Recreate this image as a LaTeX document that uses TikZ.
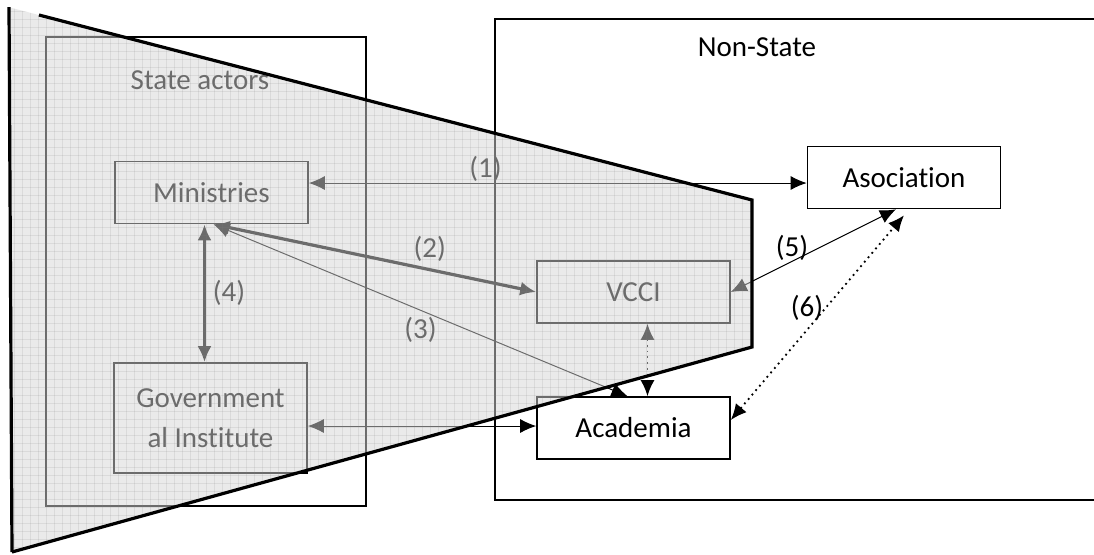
\documentclass[tikz,border=0pt]{standalone}
\usepackage{fontspec}
\setmainfont{Carlito}[Ligatures=NoCommon]
\usetikzlibrary{arrows.meta}
\tikzset{>={Latex[length=8pt,width=7pt]}}

\begin{document}
\begin{tikzpicture}[x=0.5pt,y=-0.5pt]
	\tikzset{box/.style = {draw, line width=0.8pt, fill=white, minimum width=96.5pt, minimum height=31pt, align=center, font=\fontsize{14.5}{20}\selectfont}}
	\tikzset{lbl/.style = {font=\fontsize{14.5}{17}\selectfont}}
	\tikzset{link/.style = {<->, line width=0.5pt}}
	\tikzset{heavy/.style = {<->, line width=1.6pt}}
	\tikzset{dots/.style = {<->, dotted, line width=0.9pt}}
	\tikzset{gridline/.style = {gray, opacity=0.15, line width=0.3pt}}

	\useasboundingbox (0,0) rectangle (1094,554);

	% containers
	\draw[line width=0.8pt] (46,37) rectangle (366,506);
	\draw[line width=1pt] (495,19) rectangle (1120,500);
	\node[lbl] (state) at (200,80) {State actors};
	\node[lbl] (nonstate) at (757,47) {Non-State};

	% actors
	\node[box] (min) at (211.5,192.5) {Ministries};
	\node[box, minimum height=55pt] (gov) at (210.5,418) {Government\\al Institute};
	\node[box] (vcci) at (633.5,292) {VCCI};
	\node[box] (aca) at (633.5,428) {Academia};
	\node[box] (aso) at (904,177.5) {Asociation};

	% links
	\draw[link] ([yshift=4.75pt]min.east) -- node[lbl, above, pos=0.355, inner sep=0.5pt] {(1)} ([yshift=4.75pt]min.east -| aso.west);
	\draw[heavy] ([xshift=1pt]min.south) -- node[lbl, above, pos=0.67] {(2)} (vcci.west);
	\draw[link] ([xshift=1pt]min.south) -- node[lbl, below, pos=0.5] {(3)} ([xshift=-3pt]aca.north);
	\draw[heavy] ([xshift=-3.5pt]min.south) -- node[lbl, right] {(4)} ([xshift=-3pt]gov.north);
	\draw[link] ([yshift=1pt]aca.west -| gov.east) -- ([yshift=1pt]aca.west);
	\draw[link] (vcci.east) -- node[lbl, above, pos=0.37, inner sep=0pt] {(5)} ([xshift=-4pt]aso.south);
	\draw[dots] ([yshift=4pt]aca.east) -- node[lbl, left, pos=0.55, inner sep=1pt] {(6)} ([yshift=-3pt]aso.south);
	\draw[dots] ([xshift=7pt]vcci.south) -- ([xshift=7pt]aca.north);

	% state overlay
	\coordinate (tl) at (10,7.5);
	\coordinate (tr) at (752,200);
	\coordinate (br) at (752,347);
	\coordinate (bl) at (12,552);
	\fill[black!16, fill opacity=0.5] (tl) -- (tr) -- (br) -- (bl) -- cycle;
	\begin{scope}
		\clip (tl) -- (tr) -- (br) -- (bl) -- cycle;
		\foreach \x in {14,22,...,754} \draw[gridline] (\x,0) -- (\x,554);
		\foreach \y in {3,11,...,555} \draw[gridline] (0,\y) -- (760,\y);
	\end{scope}
	\draw[line width=1.6pt] (39,15) -- (tr) -- (br) -- (bl);
	\draw[line width=1.6pt] (9,7) -- (bl);
\end{tikzpicture}
\end{document}
